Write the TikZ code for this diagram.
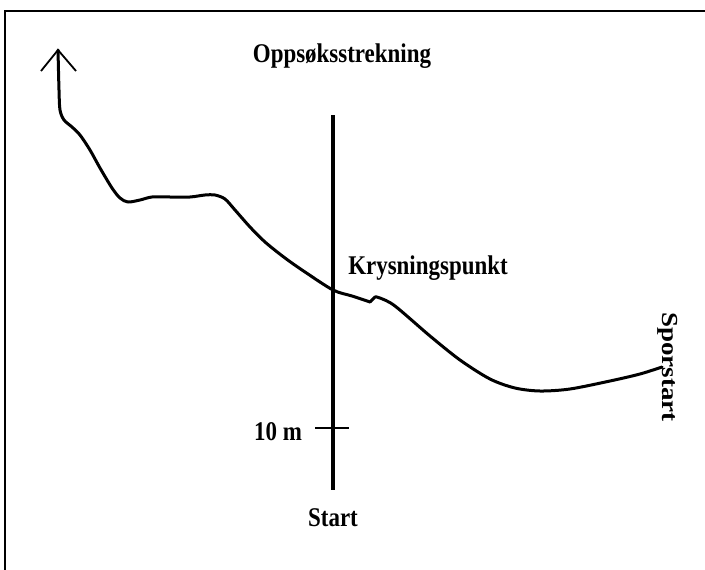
\documentclass[tikz,border=0pt]{standalone}
\usepackage{fontspec}
\setmainfont{Liberation Serif}
\tikzset{
  lbl/.style={font=\bfseries\fontsize{27}{30}\selectfont, inner sep=0pt},
  track/.style={line width=3pt, line cap=round, line join=round}
}
\newcommand{\narrow}[1]{\scalebox{0.85}[1]{#1}}
\begin{document}
\begin{tikzpicture}[x=1pt,y=-1pt]
\useasboundingbox (0,0) rectangle (705,570);
\draw[line width=2pt] (5,570) -- (5,11) -- (705,11);

% search line
\coordinate (top) at (333,115);
\coordinate (bottom) at (333,490);
\draw[line width=4.5pt] (top) -- (bottom);
\coordinate (tickl) at (315,428);
\coordinate (tickr) at (349,428);
\draw[line width=2pt] (tickl) -- (tickr);

\node[lbl] (title) at (342,56) {\narrow{Oppsøksstrekning}};
\node[lbl] (cross) at (428,268) {\narrow{Krysningspunkt}};
\node[lbl] (ten) at (278,432) {\narrow{10 m}};
\node[lbl] (start) at (333,518) {\narrow{Start}};
\node[lbl, rotate=-90] (spor) at (668,367) {\scalebox{1}[0.85]{Sporstart}};

% track
\coordinate (tip) at (58,50);
\coordinate (trackend) at (662,367);
\draw[track] plot[smooth, tension=0.5] coordinates {(tip) (59,90) (60,110) (64,120) (72,127) (80,135) (90,150) (100,168) (112,188) (120,198) (128,202) (140,200) (152,197) (170,197) (190,197) (205,195) (215,195) (225,199) (235,210) (250,227) (265,242) (285,258) (305,272) (333,290) (352,296) (370,302)};
\draw[track] plot[smooth, tension=0.5] coordinates {(370,302) (373,299) (375,297) (380,298) (395,306) (430,336) (460,360) (490,379) (515,388) (540,391) (570,389) (610,381) (640,374) (trackend)};
\coordinate (barbl) at (41,71);
\coordinate (barbr) at (76,71);
\draw[line width=1.8pt] (barbl) -- (tip) -- (barbr);
\end{tikzpicture}
\end{document}
